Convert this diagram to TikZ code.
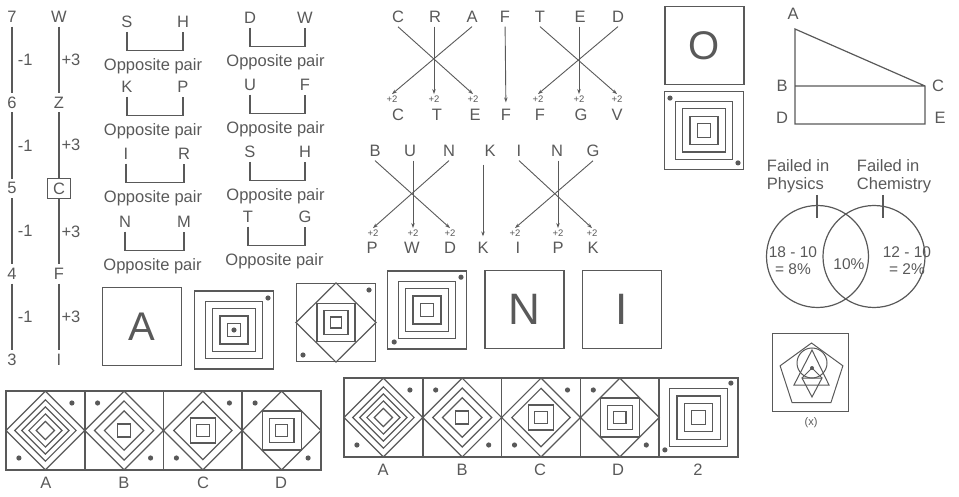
\documentclass[tikz,border=0pt]{standalone}
\usepackage{fontspec}
\setmainfont{Liberation Sans}
\usetikzlibrary{arrows.meta}
\definecolor{ink}{HTML}{595959}

\begin{document}
\begin{tikzpicture}[x=1pt,y=-1pt,>={Stealth[length=5pt,width=3.5pt]},
    line width=1.2pt,color=ink,
    every node/.style={font=\fontsize{16.5}{18}\selectfont},
    plus/.style={font=\fontsize{9.5}{10}\selectfont,inner sep=1pt},
    vtxt/.style={font=\fontsize{15.5}{17}\selectfont,align=center},
    bigl/.style={font=\fontsize{40}{40}\selectfont},
    bigr/.style={font=\fontsize{44}{44}\selectfont},
    box/.style={draw,minimum width=79pt,minimum height=78pt,inner sep=0pt},
    cbox/.style={draw,minimum width=23pt,minimum height=20pt,inner sep=0pt,line width=1pt},
    noframe/.style={},
    arr/.style={->,line width=0.9pt},
    band/.style={line width=1.7pt}]
  \useasboundingbox (0,0) rectangle (959,497);

  % 左の数列
  \foreach \n/\l/\s [count=\i] in {7/W/noframe,6/Z/noframe,5/C/cbox,4/F/noframe,3/I/noframe} {
    \node (n\i) at (12,{17+85.7*(\i-1)}) {\n};
    \node[\s] (l\i) at (59,{17+85.7*(\i-1)}) {\l};
  }
  \foreach \i [evaluate=\i as \j using int(\i+1)] in {1,...,4} {
    \draw (n\i) -- (n\j) node[midway,right,xshift=2pt] (m\i) {-1};
    \draw (l\i) -- (l\j) node[midway,right,inner sep=2pt] (p\i) {+3};
  }

  % Opposite pair
  \foreach \a/\b/\xa/\xb/\y [count=\k] in {S/H/127/183/22,K/P/127/183/87,I/R/126/184/154,N/M/125/184/222,
      D/W/250/305/18,U/F/250/305/85,S/H/250/305/152,T/G/248/305/217} {
    \node (pa\k) at (\xa,\y) {\a};
    \node (pb\k) at (\xb,\y) {\b};
    \draw (pa\k.south) -- ++(0,19) -| (pb\k.south);
    \node (op\k) at ({(\xa+\xb)/2-2},\y+44) {Opposite pair};
  }

  % CRAFTED -> CTEFFGV
  \foreach \a/\b/\xa/\xb [count=\k] in {C/C/398/398,R/T/435/437,A/E/472/475,F/F/505/506,
      T/F/540/540,E/G/580/581,D/V/618/617} {
    \node (ct\k) at (\xa,17) {\a};
    \node (cb\k) at (\xb,115) {\b};
  }
  \foreach \k/\d in {1/-6,2/-3,3/-2,5/-2,6/-2,7/0}
    \node[plus] (cp\k) at ([xshift=\d pt,yshift=16pt]cb\k) {+2};
  \foreach \s/\e in {1/3,3/1,5/7,7/5}
    \draw[arr] (ct\s.south) -- (cp\e.north);
  \foreach \k in {2,6}
    \draw[arr] (cp\k |- ct\k.south) -- (cp\k);
  \draw[arr,shorten >=3pt] (ct4) -- (cb4);

  % BUNKING -> PWDKIPK
  \foreach \a/\b/\xa/\xb [count=\k] in {B/P/375/372,U/W/410/412,N/D/449/450,K/K/490/483,
      I/I/519/518,N/P/557/558,G/K/593/593} {
    \node (bt\k) at (\xa,151) {\a};
    \node (bb\k) at (\xb,248) {\b};
  }
  \foreach \k/\d in {1/1,2/1,3/0,5/-3,6/0,7/-1}
    \node[plus] (bp\k) at ([xshift=\d pt,yshift=15pt]bb\k) {+2};
  \foreach \s/\e in {1/3,3/1,5/7,7/5}
    \draw[arr] (bt\s.south) -- (bp\e.north);
  \foreach \k in {2,6}
    \draw[arr] (bp\k |- bt\k.south) -- (bp\k);
  \draw[arr,shorten <=4pt,shorten >=2pt] (bb4 |- bt4.south) -- (bb4);

  % 枠の図
  \node[box,bigl] (bo) at (704.5,45.5) {O};
  \node[box] (bq0) at (704,130.5) {};
  \node[box,bigl] (ba) at (142,326.5) {A};
  \node[box] (bq1) at (234,330) {};
  \node[box] (bd) at (336,322.5) {};
  \node[box] (bq2) at (427,310) {};
  \node[box,bigr] (bn) at (524.5,309.5) {N};
  \node[box,bigr] (bi) at (622,309.5) {I};
  % 入れ子の正方形と点
  \foreach \cx/\cy/\ax/\ay/\bx/\by in {704/130.5/-.85/-.81/.85/.81,234/330/.85/-.8/0/0,
      427/310/.85/-.82/-.82/.8,698.5/417.5/.81/-.86/-.84/.81} {
    \foreach \r in {.72,.54,.35,.17}
      \draw (\cx-\r*40,\cy-\r*40) rectangle (\cx+\r*40,\cy+\r*40);
    \fill (\cx+\ax*40,\cy+\ay*40) circle (2.6pt) (\cx+\bx*40,\cy+\by*40) circle (2.6pt);
  }
  \draw (bd.north) -- (bd.east) -- (bd.south) -- (bd.west) -- cycle;
  \foreach \r in {19,12,5.5}
    \draw (336-\r,322.5-\r) rectangle (336+\r,322.5+\r);
  \fill (369,290) circle (2.6pt) (303,355) circle (2.6pt);

  % 台形 ABCDE
  \coordinate (A) at (795,29); \coordinate (B) at (795,86); \coordinate (C) at (925,86);
  \coordinate (D) at (795,124); \coordinate (E) at (925,124);
  \draw (A) -- (D) -- (E) -- (C) -- cycle (B) -- (C);
  \foreach \p/\x/\y in {A/793/14,B/782/86,C/938/86,D/782/118,E/940/118}
    \node (t\p) at (\x,\y) {\p};

  % ベン図
  \node[align=left,anchor=west] (fp) at (763,176) {Failed in\\Physics};
  \node[align=left,anchor=west] (fc) at (853,176) {Failed in\\Chemistry};
  \draw (817.5,256.5) circle (51pt) (874,256.5) circle (51pt);
  \draw (817,195) -- (817,218) (883,195) -- (883,218);
  \node[vtxt] (v1) at (793,260.5) {18 - 10\\= 8\%};
  \node[vtxt] (v2) at (849,264) {10\%};
  \node[vtxt] (v3) at (907,260.5) {12 - 10\\= 2\%};

  % 五角形 (x)
  \node[box,minimum width=76pt,line width=1pt] (bx) at (810,372) {};
  \begin{scope}[line width=1pt]
    \draw (811.5,343) -- (842.9,365.8) -- (830.9,402.7) -- (792.1,402.7) -- (780.1,365.8) -- cycle;
    \draw (812,363) circle (15pt);
    \draw (812,350) -- (829,385) -- (794,385) -- cycle;
    \draw (802,378) -- (822,378) -- (812,397) -- cycle;
    \draw (802,378) -- (812,368) -- (822,378);
    \fill (812,368) circle (2pt);
  \end{scope}
  \node[font=\fontsize{11}{12}\selectfont] (xl) at (811,423) {(x)};

  % 帯（A〜D）
  \draw[band] (6,391) rectangle (321,470);
  \foreach \i in {1,2,3} \draw[band] (6+78.75*\i,391) -- ++(0,79);
  \draw[band] (344,378) rectangle (738,457);
  \foreach \i in {1,...,4} \draw[band] (344+78.8*\i,378) -- ++(0,79);
  \foreach \t/\x [count=\k] in {A/46,B/124,C/203,D/281}
    \node (sl\k) at (\x,483) {\t};
  \foreach \t/\x [count=\k] in {A/383,B/462,C/540,D/618,2/698}
    \node (sr\k) at (\x,470) {\t};
  % A
  \foreach \cx/\cy in {45.4/430.5,383.4/417.5} {
    \foreach \r in {1,.78,.6,.42,.23}
      \draw (\cx-\r*39.4,\cy) -- (\cx,\cy-\r*39.4) -- (\cx+\r*39.4,\cy) -- (\cx,\cy+\r*39.4) -- cycle;
    \fill (\cx+26.5,\cy-27.5) circle (2.6pt) (\cx-26.5,\cy+27.5) circle (2.6pt);
  }
  % B
  \foreach \cx/\cy in {124.1/430.5,462.2/417.5} {
    \foreach \r in {1,.75,.5}
      \draw (\cx-\r*39.4,\cy) -- (\cx,\cy-\r*39.4) -- (\cx+\r*39.4,\cy) -- (\cx,\cy+\r*39.4) -- cycle;
    \draw (\cx-6.5,\cy-6.5) rectangle (\cx+6.5,\cy+6.5);
    \fill (\cx-26.5,\cy-27.5) circle (2.6pt) (\cx+26.5,\cy+27.5) circle (2.6pt);
  }
  % C
  \foreach \cx/\cy in {202.9/430.5,541/417.5} {
    \foreach \r in {1,.74}
      \draw (\cx-\r*39.4,\cy) -- (\cx,\cy-\r*39.4) -- (\cx+\r*39.4,\cy) -- (\cx,\cy+\r*39.4) -- cycle;
    \foreach \r in {12.5,6.3}
      \draw (\cx-\r,\cy-\r) rectangle (\cx+\r,\cy+\r);
    \fill (\cx+26.5,\cy-27.5) circle (2.6pt) (\cx-26.5,\cy+27.5) circle (2.6pt);
  }
  % D
  \foreach \cx/\cy in {281.6/430.5,619.8/417.5} {
    \draw (\cx-39.4,\cy) -- (\cx,\cy-39.4) -- (\cx+39.4,\cy) -- (\cx,\cy+39.4) -- cycle;
    \foreach \r in {19.5,12.3,6.2}
      \draw (\cx-\r,\cy-\r) rectangle (\cx+\r,\cy+\r);
    \fill (\cx-26.5,\cy-27.5) circle (2.6pt) (\cx+26.5,\cy+27.5) circle (2.6pt);
  }
\end{tikzpicture}
\end{document}
